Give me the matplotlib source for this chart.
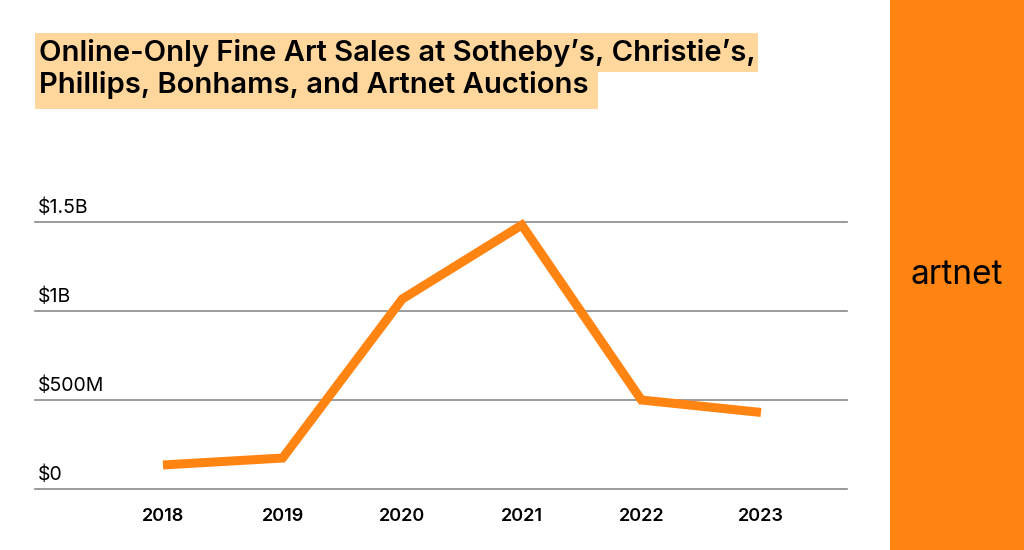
import matplotlib
matplotlib.use("Agg")
import matplotlib.pyplot as plt
from matplotlib.patches import Rectangle

plt.rcParams['font.family'] = ['Inter', 'DejaVu Sans']

years = [2018, 2019, 2020, 2021, 2022, 2023]
sales_musd = [135, 174, 1067, 1483, 500, 430]
tick_vals = [0, 500, 1000, 1500]
tick_labels = ['$0', '$500M', '$1B', '$1.5B']
title_lines = ["Online-Only Fine Art Sales at Sotheby\u2019s, Christie\u2019s,",
               "Phillips, Bonhams, and Artnet Auctions"]

ORANGE = '#FF8412'
HIGHLIGHT = '#FFD69C'
W, H = 1024, 550

fig = plt.figure(figsize=(W / 100, H / 100), dpi=100)
fig.patch.set_facecolor('white')

# orange brand panel on the right
fig.patches.append(Rectangle((890 / W, 0), 1 - 890 / W, 1, transform=fig.transFigure,
                             facecolor=ORANGE, edgecolor='none', zorder=0))
fig.text(957 / W, 1 - 275 / H, 'artnet', fontsize=24, color='black',
         ha='center', va='center')

# title highlight boxes
fig.patches.append(Rectangle((35 / W, 1 - 72 / H), (758 - 35) / W, 39 / H,
                             transform=fig.transFigure, facecolor=HIGHLIGHT,
                             edgecolor='none', zorder=0))
fig.patches.append(Rectangle((35 / W, 1 - 109 / H), (598 - 35) / W, 38 / H,
                             transform=fig.transFigure, facecolor=HIGHLIGHT,
                             edgecolor='none', zorder=0))
fig.text(39 / W, 1 - 61 / H, title_lines[0], fontsize=21, fontweight='semibold',
         ha='left', va='baseline')
fig.text(39 / W, 1 - 93 / H, title_lines[1], fontsize=21, fontweight='semibold',
         ha='left', va='baseline')

ax = fig.add_axes([35 / W, 1 - 489 / H, (847 - 35) / W, (489 - 222) / H])
ax.set_facecolor('none')
ax.set_xlim(years[0] - 128 / 119.6, years[-1] + 86 / 119.6)
ax.set_ylim(0, 1500)

for v, lab in zip(tick_vals, tick_labels):
    ax.axhline(v, color='#8a8a8a', linewidth=1.2, zorder=1, clip_on=False)
    ax.annotate(lab, xy=(0, v), xycoords=('axes fraction', 'data'),
                xytext=(2, 3.5), textcoords='offset points',
                ha='left', va='bottom', fontsize=14, color='black')

ax.plot(years, sales_musd, color=ORANGE, linewidth=6.5, solid_joinstyle='miter',
        solid_capstyle='butt', clip_on=False, zorder=3)

for y in years:
    ax.annotate(str(y), xy=(y, 0), xycoords='data', xytext=(0, -20),
                textcoords='offset points', ha='center', va='center',
                fontsize=13, fontweight='semibold')

for s in ax.spines.values():
    s.set_visible(False)
ax.set_xticks([])
ax.set_yticks([])

fig.savefig('out.png', dpi=100)
